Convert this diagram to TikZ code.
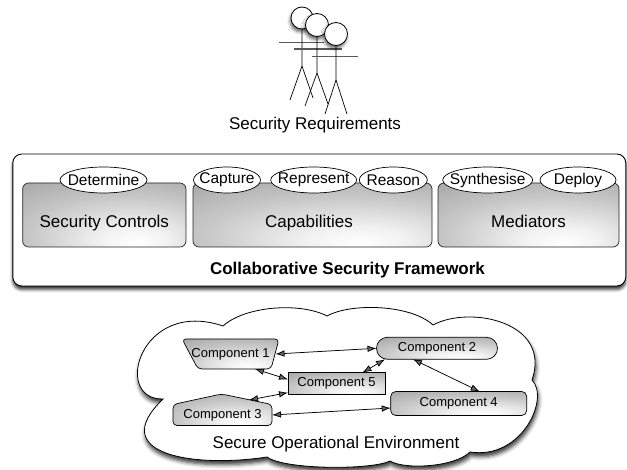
\documentclass[tikz,border=0pt]{standalone}
\usepackage{fontspec}
\setmainfont{Liberation Sans}
\usetikzlibrary{shapes.geometric,shapes.misc,arrows.meta,shadows.blur,calc}
\pgfdeclareradialshading{boxshade}{\pgfpoint{10bp}{-22bp}}{color(0bp)=(white); color(10bp)=(white!95!black); color(30bp)=(white!78!black); color(50bp)=(white!64!black); color(100bp)=(white!55!black)}
\begin{document}
\begin{tikzpicture}[x=1pt,y=-1pt,
  every node/.style={inner sep=0pt, outer sep=0pt},
  lbl/.style={font=\fontsize{17}{20}\selectfont},
  fbox/.style={draw=black!85, line width=0.7pt, rounded corners=6pt, shade, shading=boxshade},
  oval/.style={ellipse, draw, fill=white, line width=0.7pt, minimum width=#1, minimum height=26pt, font=\fontsize{15.5}{18}\selectfont},
  comp/.style={draw, line width=0.7pt, shade, shading=boxshade, font=\fontsize{13}{15}\selectfont},
  ctext/.style={font=\fontsize{13}{15}\selectfont},
  cshape/.style={draw, line width=0.7pt, shading=boxshade, rounded corners=4pt},
  arm/.style={line width=1.3pt, black!65},
  limb/.style={line width=0.7pt, black},
  head/.style={line width=0.8pt, fill=white, blur shadow={shadow xshift=-1pt, shadow yshift=-3pt, shadow opacity=60, shadow blur radius=3pt}},
  dbl/.style={{Latex[length=9pt,width=6.5pt]}-{Latex[length=9pt,width=6.5pt]}, line width=0.75pt}]
\useasboundingbox (0,0) rectangle (627,470);

% ---- stick figures ----
\draw[arm] (279,42.7) -- (324,42.7);
\draw[limb] (302,29) -- (302,66) -- (290,100);
\draw[limb] (302,66) -- (313,98);
\draw[head] (302,18) circle (11pt);
\draw[arm] (294,49) -- (342,49);
\draw[limb] (317,36.5) -- (317,73) -- (305,106);
\draw[limb] (317,73) -- (328,104);
\draw[head] (317,25) circle (11.5pt);
\draw[arm] (312,56.7) -- (358,56.7);
\draw[limb] (336,45.5) -- (336,80) -- (325,114);
\draw[limb] (336,80) -- (347,114);
\draw[head] (336,34) circle (11.5pt);
\node[lbl, anchor=base] (req) at (315,129.3) {Security Requirements};

% ---- framework ----
\node[draw, line width=0.9pt, rounded corners=9pt, fill=white, minimum width=613pt, minimum height=132pt,
  blur shadow={shadow xshift=0pt, shadow yshift=-3.5pt, shadow opacity=80, shadow blur radius=3pt}] (frame) at (319.3,220) {};
\node[fbox, minimum width=163.3pt, minimum height=64pt] (sc) at (104.3,215) {};
\node[fbox, minimum width=239pt, minimum height=64pt] (cap) at (312.5,215) {};
\node[fbox, minimum width=181pt, minimum height=64pt] (med) at (528.5,215) {};
\node[lbl, anchor=base] (sclbl) at (104.3,227.5) {Security Controls};
\node[lbl, anchor=base] (caplbl) at (309,227.5) {Capabilities};
\node[lbl, anchor=base] (medlbl) at (528.5,227.5) {Mediators};
\node[oval=87pt] (det) at (103.5,180) {\makebox[0pt]{Determine}};
\node[oval=67pt] (capt) at (227,180) {\makebox[0pt]{Capture}};
\node[oval=86pt] (repr) at (313.7,180) {\makebox[0pt]{Represent}};
\node[oval=68pt] (reas) at (393.3,180) {\makebox[0pt]{Reason}};
\node[oval=90pt] (synt) at (487.7,180) {\makebox[0pt]{Synthesise}};
\node[oval=76pt] (depl) at (578,180) {\makebox[0pt]{Deploy}};
\node[font=\bfseries\fontsize{17}{20}\selectfont, anchor=base] (csf) at (347.5,275) {Collaborative Security Framework};

% ---- cloud ----
\draw[line width=0.8pt, fill=white, blur shadow={shadow xshift=1pt, shadow yshift=-4pt, shadow opacity=80, shadow blur radius=4pt}]
  (163,399)
  .. controls (112,400) and (140,298) .. (223,326)
  .. controls (245,306) and (300,302) .. (327,316)
  .. controls (350,303) and (410,304) .. (433,325)
  .. controls (470,305) and (552,322) .. (532,380)
  .. controls (550,398) and (522,460) .. (470,452)
  .. controls (455,467) and (405,470) .. (390,461)
  .. controls (372,470) and (285,470) .. (267,457)
  .. controls (195,468) and (105,455) .. (163,399) -- cycle;
\node[lbl, anchor=base] (soe) at (336,448.3) {Secure Operational Environment};

% ---- components ----
\shadedraw[cshape] (182,339) -- (279,339) -- (271,369) -- (198,369) -- cycle;
\node[ctext, minimum width=97pt, minimum height=30pt] (c1) at (230.5,354) {Component 1};
\shadedraw[cshape] (173,404.5) -- (221.5,394) -- (272,404.5) -- (272,425.5) -- (173,425.5) -- cycle;
\node[ctext, minimum width=99pt, minimum height=21pt] (c3) at (222.5,415) {Component 3};
\node[comp, rectangle, minimum width=97pt, minimum height=21.5pt] (c5) at (336.5,383.4) {Component 5};
\node[comp, rounded rectangle, minimum width=121pt, minimum height=22pt] (c2) at (437,348.3) {Component 2};
\node[comp, rounded corners=5pt, minimum width=136pt, minimum height=24pt] (c4) at (458.7,403.5) {Component 4};

\draw[dbl] ([xshift=-3.5pt]c1.east) -- (c2.west);
\draw[dbl] ([xshift=24.5pt]c1.south) -- ([yshift=4pt]c5.west);
\draw[dbl] ([xshift=26pt]c5.north) -- ([xshift=-52pt]c2.south);
\draw[dbl] ([xshift=26.5pt,yshift=4.5pt]c3.north) -- ([yshift=1.5pt]c5.south west);
\draw[dbl] (c3.east) -- ([yshift=-4.5pt]c4.west);
\draw[dbl] ([xshift=-24pt]c2.south) -- ([xshift=21pt]c4.north);
\end{tikzpicture}
\end{document}
